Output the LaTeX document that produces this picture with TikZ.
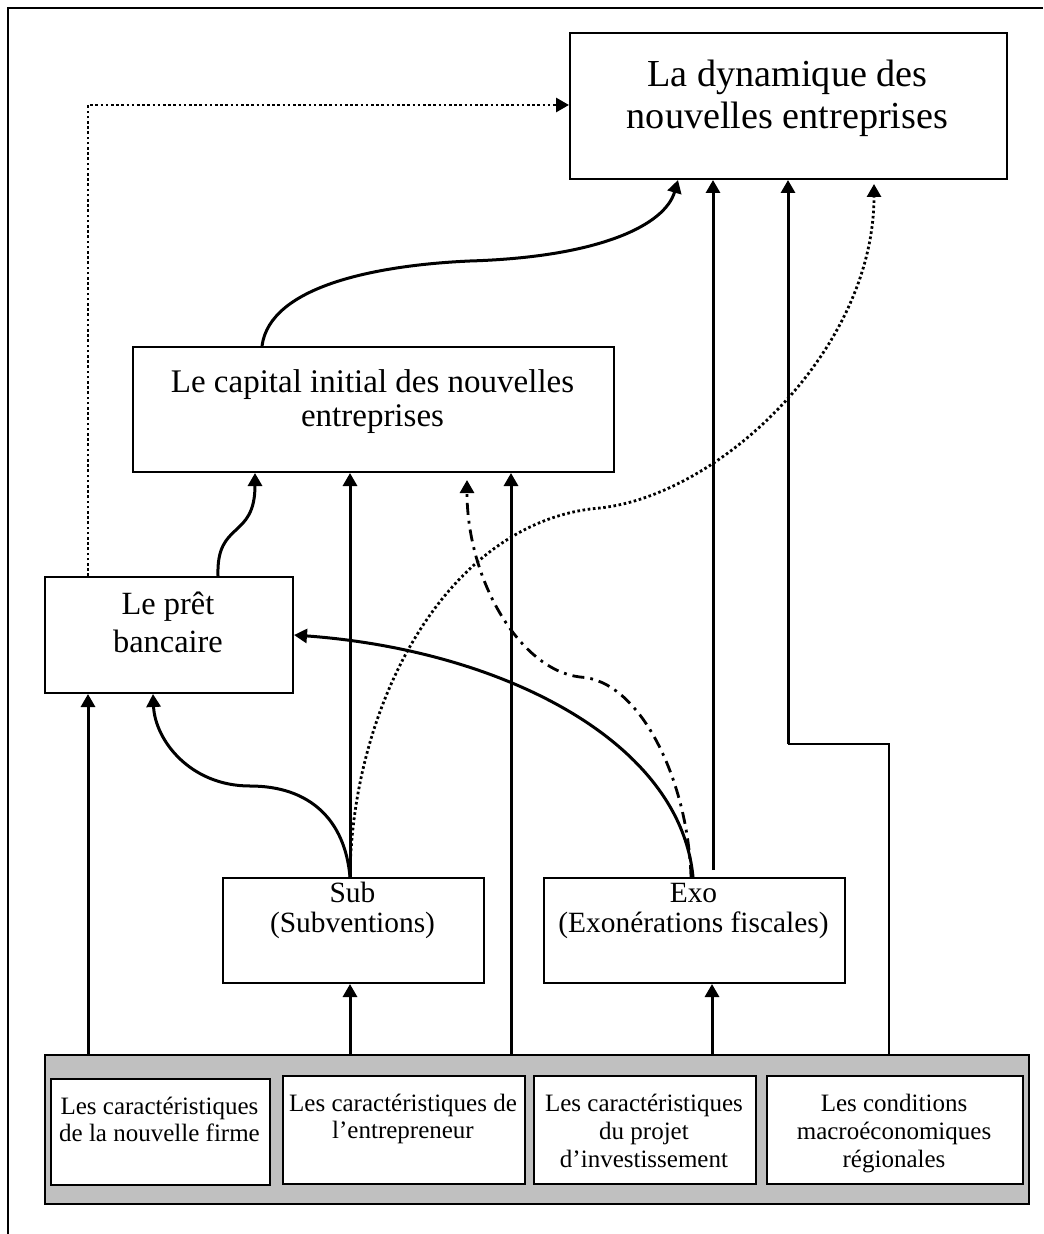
\documentclass[tikz,border=0pt]{standalone}
\usepackage{fontspec}
\setmainfont{Liberation Serif}
\usetikzlibrary{arrows.meta}
\definecolor{panelgray}{RGB}{192,192,192}
\begin{document}
\begin{tikzpicture}[x=0.5pt,y=-0.5pt,
  box/.style={draw, line width=1pt, inner sep=0pt, anchor=north west, fill=white},
  arr/.style={line width=1.5pt, -{Triangle[length=6.5pt,width=7pt]}},
  dotarr/.style={arr, line width=1.4pt, dash pattern=on 1.3pt off 1.3pt},
  dasharr/.style={arr, line width=1.4pt, dash pattern=on 6pt off 3pt on 1.4pt off 3pt},
  thinline/.style={line width=1pt},
  lbl/.style={anchor=base, inner sep=0pt}]
\useasboundingbox (0,0) rectangle (1043,1234);
% page frame
\draw[thinline] (8,1234) -- (8,8) -- (1043,8);

% boxes
\node[box, minimum width=218.5pt, minimum height=73pt] (dyn) at (569,32) {};
\node[box, minimum width=240.5pt, minimum height=62.5pt] (cap) at (132,346) {};
\node[box, minimum width=124pt, minimum height=58pt] (pret) at (44,576) {};
\node[box, minimum width=130.5pt, minimum height=52.5pt] (sub) at (222,877) {};
\node[box, minimum width=150.5pt, minimum height=52.5pt] (exo) at (543,877) {};
\node[box, fill=panelgray, minimum width=492pt, minimum height=74.5pt] (gray) at (44,1054) {};
\node[box, minimum width=109.5pt, minimum height=53pt] (b1) at (50,1078) {};
\node[box, minimum width=121pt, minimum height=54pt] (b2) at (282,1075) {};
\node[box, minimum width=111pt, minimum height=54pt] (b3) at (533,1075) {};
\node[box, minimum width=128pt, minimum height=54pt] (b4) at (766,1075) {};

% texts
\node[lbl] (dynt) at (787.5,87) {\fontsize{19.1}{21}\selectfont\begin{tabular}[t]{@{}c@{}}La dynamique des\\nouvelles entreprises\end{tabular}};
\node[lbl] (capt) at (372.5,393) {\fontsize{16.5}{17}\selectfont\begin{tabular}[t]{@{}c@{}}Le capital initial des nouvelles\\entreprises\end{tabular}};
\node[lbl] (prett) at (168,614) {\fontsize{16.2}{19}\selectfont\begin{tabular}[t]{@{}c@{}}Le prêt\\bancaire\end{tabular}};
\node[lbl] (subt) at (352.5,902) {\fontsize{14.7}{15}\selectfont\begin{tabular}[t]{@{}c@{}}Sub\\(Subventions)\end{tabular}};
\node[lbl] (exot) at (693.5,902) {\fontsize{14.7}{15}\selectfont\begin{tabular}[t]{@{}c@{}}Exo\\(Exonérations fiscales)\end{tabular}};
\node[lbl] (b1t) at (159.5,1114) {\fontsize{12.5}{13.5}\selectfont\begin{tabular}[t]{@{}c@{}}Les caractéristiques\\de la nouvelle firme\end{tabular}};
\node[lbl] (b2t) at (403,1111) {\fontsize{12.5}{13.5}\selectfont\begin{tabular}[t]{@{}c@{}}Les caractéristiques de\\l’entrepreneur\end{tabular}};
\node[lbl] (b3t) at (644,1111) {\fontsize{12.5}{14}\selectfont\begin{tabular}[t]{@{}c@{}}Les caractéristiques\\du projet\\d’investissement\end{tabular}};
\node[lbl] (b4t) at (894,1111) {\fontsize{12.5}{14}\selectfont\begin{tabular}[t]{@{}c@{}}Les conditions\\macroéconomiques\\régionales\end{tabular}};

% helper coordinates
\coordinate (k88) at (88,105);
\coordinate (k262) at (262,0);
\coordinate (k678) at (678,0);
\coordinate (k712) at (712,0);
\coordinate (elbA) at (788,744);
\coordinate (elbB) at (889,744);
\coordinate (k874) at (874,0);
\coordinate (k350) at (350,0);
\coordinate (k153) at (153,0);
\coordinate (k511) at (511,0);
\coordinate (k691) at (691,0);
\coordinate (k467) at (467,0);
\coordinate (k693) at (693,0);
\coordinate (k218) at (218,0);
\coordinate (k255) at (255,0);
\coordinate (kexo) at (713,870);

% connectors
\draw[dotarr] (pret.north -| k88) -- (k88) -- (dyn.west |- k88);
\draw[arr] (cap.north -| k262) .. controls (270,285) and (380,265) .. (470,261)
  .. controls (600,257) and (665,225) .. (dyn.south -| k678);
\draw[arr] (kexo) -- (dyn.south -| kexo);
\draw[thinline] (gray.north -| elbB) -- (elbB) -- (elbA);
\draw[arr] (elbA) -- (dyn.south -| elbA);
\draw[dotarr] (sub.north -| k350) .. controls (352,700) and (450,520) .. (600,508)
  .. controls (720,495) and (874,350) .. ([yshift=-2pt]dyn.south -| k874);
\draw[arr] (sub.north -| k350) -- (cap.south -| k350);
\draw[arr] (sub.north -| k350) .. controls (345,820) and (310,786) .. (250,786)
  .. controls (190,786) and (155,740) .. (pret.south -| k153);
\draw[arr] (gray.north -| k511) -- (cap.south -| k511);
\draw[dasharr] (exo.north -| k691) .. controls (688,780) and (640,680) .. (580,677)
  .. controls (520,670) and (467,580) .. ([yshift=-3.5pt]cap.south -| k467);
\draw[arr] (exo.north -| k693) .. controls (680,740) and (500,650) .. (pret.east);
\draw[arr] (pret.north -| k218) .. controls (216,520) and (255,540) .. (cap.south -| k255);
\draw[arr] (gray.north -| k88) -- (pret.south -| k88);
\draw[arr] (gray.north -| k350) -- (sub.south -| k350);
\draw[arr] (gray.north -| k712) -- (exo.south -| k712);
\end{tikzpicture}
\end{document}
